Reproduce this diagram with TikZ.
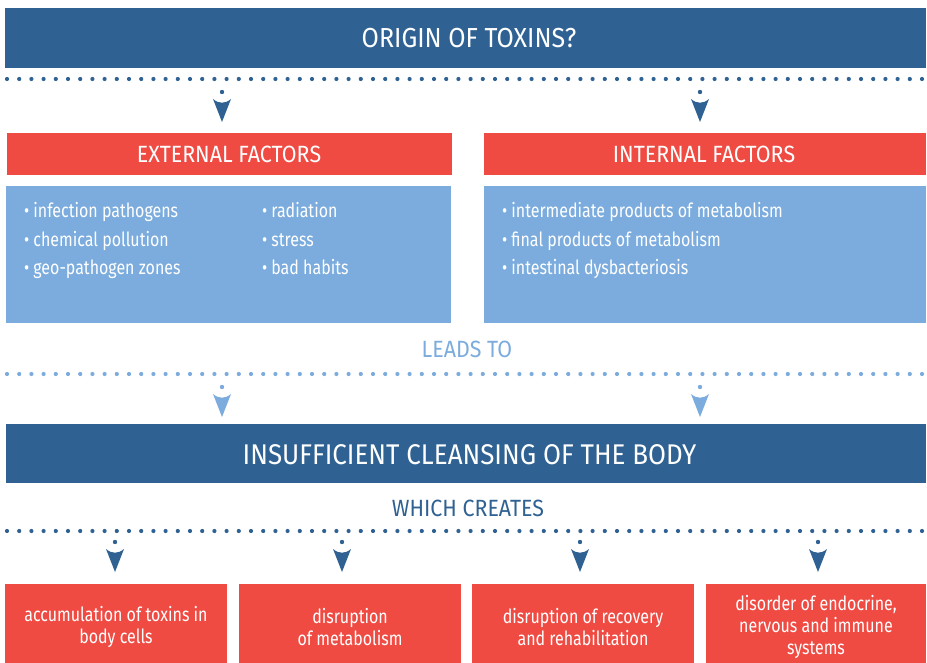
\documentclass[tikz,border=0pt]{standalone}
\usepackage{fontspec}
\setmainfont{Fira Sans}[FakeStretch=0.82]
\newfontfamily\capsfont{Fira Sans}[FakeStretch=0.91]
\definecolor{dkblue}{HTML}{2F6292}
\definecolor{redc}{HTML}{EF4B43}
\definecolor{ltblue}{HTML}{7BACDD}
\tikzset{
  bar/.style={anchor=north west, inner sep=0pt, outer sep=0pt, text=white},
  dotline/.style={line width=4.2pt, line cap=round, dash pattern=on 0pt off 12.2pt},
  item/.style={anchor=base west, inner sep=0pt, text=white, font=\fontsize{19.5}{22}\selectfont},
  bottombox/.style={bar, fill=redc, minimum width=222pt, minimum height=86pt, align=center, font=\fontsize{19.5}{21.8}\selectfont},
  capslabel/.style={anchor=base, inner sep=0pt},
  marker/.pic={
    \fill (0,0) circle (2.2);
    \fill (-9,7) .. controls (-3,12) and (3,12) .. (9,7) -- (0,30) -- cycle;
  }
}
\begin{document}
\begin{tikzpicture}[x=1pt,y=-1pt]
\useasboundingbox (0,0) rectangle (927,663);
\fill[white] (0,0) rectangle (927,663);

% title
\node[bar, fill=dkblue, minimum width=921pt, minimum height=60pt] (title) at (5,8) {};
\node[capslabel, text=white, font=\capsfont\fontsize{27.5}{30}\selectfont] (titletext) at (469,48) {ORIGIN OF TOXINS?};

\draw[dotline, dkblue] (7,79) -- (927,79);
\coordinate (a1) at (222,92);
\coordinate (a2) at (700,92);
\pic[dkblue] at (a1) {marker};
\pic[dkblue] at (a2) {marker};

% factor headers
\node[bar, fill=redc, minimum width=445pt, minimum height=42pt] (ext) at (7,133) {};
\node[capslabel, text=white, font=\capsfont\fontsize{23.5}{26}\selectfont] (exttext) at (229,163) {EXTERNAL FACTORS};
\node[bar, fill=redc, minimum width=442pt, minimum height=42pt] (int) at (484,133) {};
\node[capslabel, text=white, font=\capsfont\fontsize{23.5}{26}\selectfont] (inttext) at (704,163) {INTERNAL FACTORS};

% blue boxes
\node[bar, fill=ltblue, minimum width=445pt, minimum height=137pt] (extbox) at (6,186) {};
\node[bar, fill=ltblue, minimum width=442pt, minimum height=137pt] (intbox) at (484,186) {};

\node[item] (e1) at (24,218) {\textbullet\hspace{4pt}infection pathogens};
\node[item] (e2) at (24,246.5) {\textbullet\hspace{4pt}chemical pollution};
\node[item] (e3) at (24,275) {\textbullet\hspace{4pt}geo-pathogen zones};
\node[item] (e4) at (262,218) {\textbullet\hspace{4pt}radiation};
\node[item] (e5) at (262,246.5) {\textbullet\hspace{4pt}stress};
\node[item] (e6) at (262,275) {\textbullet\hspace{4pt}bad habits};

\node[item] (i1) at (502,218) {\textbullet\hspace{4pt}intermediate products of metabolism};
\node[item] (i2) at (502,246.5) {\textbullet\hspace{4pt}final products of metabolism};
\node[item] (i3) at (502,275) {\textbullet\hspace{4pt}intestinal dysbacteriosis};

% leads to
\node[capslabel, text=ltblue, font=\capsfont\fontsize{23.5}{26}\selectfont] (leads) at (467,357) {LEADS TO};
\draw[dotline, ltblue] (7,374) -- (927,374);
\coordinate (b1) at (222,387);
\coordinate (b2) at (700,387);
\pic[ltblue] at (b1) {marker};
\pic[ltblue] at (b2) {marker};

% insufficient
\node[bar, fill=dkblue, minimum width=920pt, minimum height=59pt] (ins) at (6,424) {};
\node[capslabel, text=white, font=\capsfont\fontsize{28.5}{32}\selectfont] (instext) at (469.5,464) {INSUFFICIENT CLEANSING OF THE BODY};

\node[capslabel, text=dkblue, font=\capsfont\fontsize{23.5}{26}\selectfont] (creates) at (468,516) {WHICH CREATES};
\draw[dotline, dkblue] (7,531) -- (927,531);
\coordinate (c1) at (115,542);
\coordinate (c2) at (342,542);
\coordinate (c3) at (580,542);
\coordinate (c4) at (818,542);
\foreach \c in {c1,c2,c3,c4} \pic[dkblue] at (\c) {marker};

% bottom boxes
\node[bottombox] (r1) at (5,584) {accumulation of toxins in\\body cells};
\node[bottombox] (r2) at (239,584) {disruption\\of metabolism};
\node[bottombox] (r3) at (472,584) {disruption of recovery\\and rehabilitation};
\node[bottombox, minimum width=220pt] (r4) at (706,584) {disorder of endocrine,\\nervous and immune\\systems};
\end{tikzpicture}
\end{document}
